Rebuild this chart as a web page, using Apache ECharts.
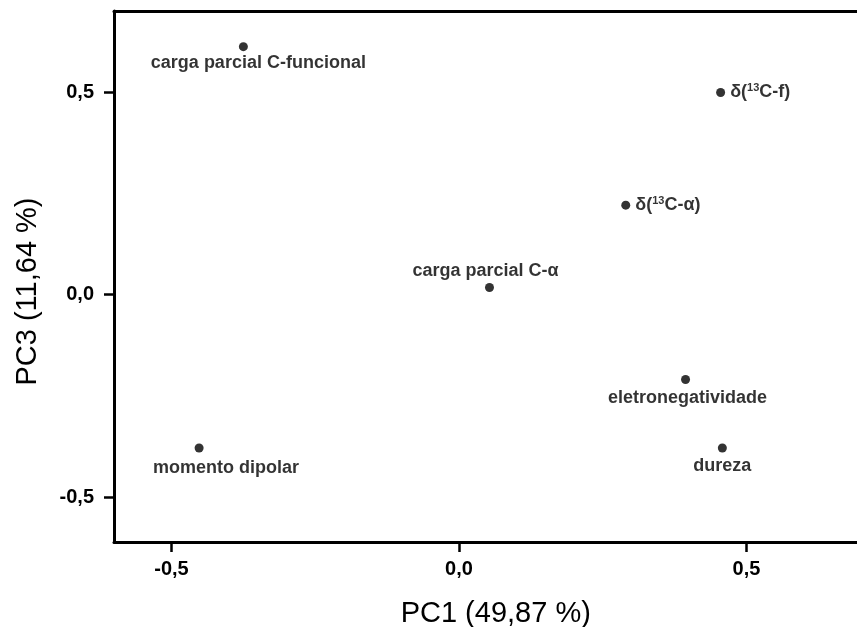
<!DOCTYPE html>
<html><head><meta charset="utf-8">
<script src="https://cdn.jsdelivr.net/npm/echarts@6/dist/echarts.min.js"></script>
<style>html,body{margin:0;padding:0;background:#fff}#c{width:857px;height:627px}</style>
</head><body><div id="c"></div>
<script>
const variables = ['carga parcial C-funcional','δ(13C-f)','δ(13C-α)','carga parcial C-α','eletronegatividade','dureza','momento dipolar'];
const pc1 = [-0.375, 0.455, 0.290, 0.053, 0.394, 0.458, -0.452];
const pc3 = [0.612, 0.499, 0.221, 0.018, -0.209, -0.378, -0.378];
const xTicks = [-0.5, 0.0, 0.5];
const yTicks = [-0.5, 0.0, 0.5];

const FONT = 'Liberation Sans, Arial, sans-serif';
const labelStyle = {
  'carga parcial C-funcional': {position:'bottom', distance:3, offset:[15,0]},
  'δ(13C-f)': {position:'right', distance:5, offset:[0,0]},
  'δ(13C-α)': {position:'right', distance:5, offset:[0,0]},
  'carga parcial C-α': {position:'top', distance:3, offset:[-4,0]},
  'eletronegatividade': {position:'bottom', distance:5, offset:[2,0]},
  'dureza': {position:'bottom', distance:5, offset:[0,0]},
  'momento dipolar': {position:'bottom', distance:7, offset:[27,0]}
};
function fmtLabel(n){
  const m = n.match(/^δ\(13(.*)$/);
  if (m) return '{t|δ(}{s|13}{t|' + m[1] + '}';
  return '{t|' + n + '}';
}
const data = variables.map((n,i)=>({
  value:[pc1[i], pc3[i]], name:n,
  label:Object.assign({show:true, formatter:fmtLabel(n)}, labelStyle[n])
}));
const fmt = v => v.toFixed(1).replace('.', ',');
const chart = echarts.init(document.getElementById('c'));
chart.setOption({
  animation:false,
  textStyle:{fontFamily:FONT},
  grid:{left:114, top:11, width:747.5, height:531, outerBoundsMode:'none', containLabel:false},
  xAxis:[{
    type:'value', min:-0.6, max:0.7, position:'bottom',
    name:'PC1 (49,87 %)', nameLocation:'middle', nameGap:57,
    nameTextStyle:{fontSize:29, color:'#000', fontFamily:FONT, padding:[0,0,0,16]},
    axisLine:{show:true, onZero:false, lineStyle:{color:'#000', width:3}},
    axisTick:{show:true, length:10, lineStyle:{color:'#000', width:2.5}, customValues:xTicks},
    axisLabel:{fontSize:20, fontWeight:'bold', color:'#000', margin:17, formatter:fmt, customValues:xTicks},
    splitLine:{show:false}
  },{
    type:'value', min:-0.6, max:0.7, position:'top',
    axisLine:{show:true, onZero:false, lineStyle:{color:'#000', width:3}},
    axisTick:{show:false}, axisLabel:{show:false}, splitLine:{show:false}
  }],
  yAxis:{
    type:'value', min:-0.61, max:0.7,
    name:'PC3 (11,64 %)', nameLocation:'middle', nameGap:72, nameRotate:90,
    nameTextStyle:{fontSize:29, color:'#000', fontFamily:FONT, padding:[0,30,0,0]},
    axisLine:{show:true, onZero:false, lineStyle:{color:'#000', width:3}},
    axisTick:{show:true, length:10, lineStyle:{color:'#000', width:2.5}, customValues:yTicks},
    axisLabel:{fontSize:20, fontWeight:'bold', color:'#000', margin:20, formatter:fmt, customValues:yTicks},
    splitLine:{show:false}
  },
  series:[{
    type:'scatter', symbolSize:9, itemStyle:{color:'#000'},
    data:data,
    label:{
      color:'#000',
      rich:{
        t:{fontSize:18, fontWeight:'bold', color:'#000', fontFamily:FONT},
        s:{fontSize:11, fontWeight:'bold', color:'#000', verticalAlign:'top', padding:[0,0,9,0], fontFamily:FONT}
      }
    }
  }]
});
</script></body></html>
